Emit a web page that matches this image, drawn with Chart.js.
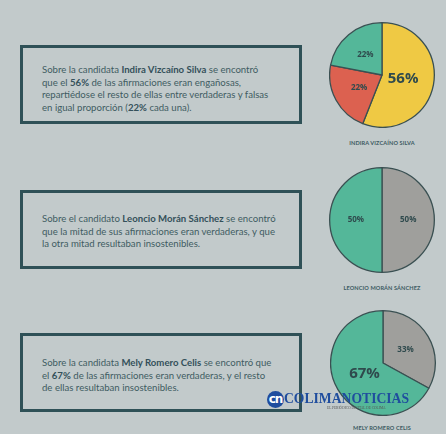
<!DOCTYPE html>
<html>
<head>
<meta charset="utf-8">
<script src="https://cdn.jsdelivr.net/npm/chart.js@4.4.1/dist/chart.umd.min.js"></script>
<style>
  html, body { margin: 0; padding: 0; }
  body { width: 446px; height: 434px; background: #c2cacb; position: relative; overflow: hidden;
         font-family: "Lato", "Noto Sans", sans-serif; }
  .box { position: absolute; left: 20px; width: 276px; height: 73px; border: 3px solid #2f5157; }
  .box p { margin: 0; position: absolute; left: 19px; color: #3f5c62; font-size: 9.6px; line-height: 12.6px; }
  .box b { color: #34505a; }
  .pie { position: absolute; width: 106px; height: 106px; }
  .name { position: absolute; width: 120px; text-align: center; font-size: 5.6px; font-weight: bold;
          color: #3c5a62; letter-spacing: 0.1px; }
  .logo { position: absolute; left: 267px; top: 389px; height: 20px; }
  .logo .circ { position: absolute; left: 0; top: 2px; width: 17px; height: 17px; border-radius: 50%;
                background: #1f4d9e; color: #fff; font: bold 12px "DejaVu Sans", sans-serif; text-align: center;
                line-height: 16px; letter-spacing: -1px; }
  .logo .txt { position: absolute; left: 17px; top: 0; font: bold 15.5px "Liberation Serif", serif; color: #1f4d9e;
               white-space: nowrap; transform: scaleX(0.88); transform-origin: left top; }
  .logo .sub { position: absolute; left: 60px; top: 17px; font: 3.5px "Liberation Serif", serif; color: #555;
               white-space: nowrap; }
</style>
</head>
<body>
<div class="box" style="top:45px"><p style="top:16px">Sobre la candidata <b>Indira Vizcaíno Silva</b> se encontró<br>que el <b>56%</b> de las afirmaciones eran engañosas,<br>repartiédose el resto de ellas entre verdaderas y falsas<br>en igual proporción (<b>22%</b> cada una).</p></div>
<div class="box" style="top:190px"><p style="top:20px">Sobre el candidato <b>Leoncio Morán Sánchez</b> se encontró<br>que la mitad de sus afirmaciones eran verdaderas, y que<br>la otra mitad resultaban insostenibles.</p></div>
<div class="box" style="top:333px"><p style="top:21px">Sobre la candidata <b>Mely Romero Celis</b> se encontró que<br>el <b>67%</b> de las afirmaciones eran verdaderas, y el resto<br>de ellas resultaban insostenibles.</p></div>

<canvas id="pie1" class="pie" style="left:329px;top:22px"></canvas>
<canvas id="pie2" class="pie" style="left:329px;top:167px"></canvas>
<canvas id="pie3" class="pie" style="left:330px;top:310px"></canvas>

<div class="name" id="n1" style="left:322px;top:139px"></div>
<div class="name" id="n2" style="left:322px;top:284px"></div>
<div class="name" id="n3" style="left:322px;top:424px"></div>

<div class="logo">
  <div class="circ">cn</div>
  <div class="txt">COLIMANOTICIAS</div>
  <div class="sub">EL PERIÓDICO DIGITAL DE COLIMA</div>
</div>

<script>
const candidates = ["INDIRA VIZCAÍNO SILVA", "LEONCIO MORÁN SÁNCHEZ", "MELY ROMERO CELIS"];

const indiraLabels = ["Engañosas", "Falsas", "Verdaderas"];
const indiraValues = [56, 22, 22];
const indiraColors = ["#efc944", "#dc6150", "#54b799"];

const leoncioLabels = ["Insostenibles", "Verdaderas"];
const leoncioValues = [50, 50];
const leoncioColors = ["#9f9f9c", "#54b799"];

const melyLabels = ["Insostenibles", "Verdaderas"];
const melyValues = [33, 67];
const melyColors = ["#9f9f9c", "#54b799"];

// big number when the slice is more than half
const sliceLabels = {
  id: "sliceLabels",
  afterDatasetsDraw(chart) {
    const ctx = chart.ctx;
    const meta = chart.getDatasetMeta(0);
    const vals = chart.data.datasets[0].data;
    meta.data.forEach((arc, i) => {
      const big = vals[i] > 50;
      const mid = (arc.startAngle + arc.endAngle) / 2;
      const d = arc.outerRadius * (big ? 0.41 : 0.5);
      const x = arc.x + Math.cos(mid) * d;
      const y = arc.y + Math.sin(mid) * d;
      ctx.save();
      ctx.fillStyle = "#2f4a4d";
      ctx.font = big ? "bold 15px 'Open Sans', sans-serif" : "bold 8px 'Open Sans', sans-serif";
      ctx.textAlign = "center";
      ctx.textBaseline = "middle";
      ctx.fillText(vals[i] + "%", x, y);
      ctx.restore();
    });
  }
};

function makePie(id, labels, values, colors) {
  new Chart(document.getElementById(id), {
    type: "pie",
    data: {
      labels,
      datasets: [{ data: values, backgroundColor: colors, borderColor: "#3a5052", borderWidth: 1.3 }]
    },
    options: {
      responsive: false,
      animation: false,
      layout: { padding: 0 },
      plugins: { legend: { display: false }, tooltip: { enabled: false } }
    },
    plugins: [sliceLabels]
  });
}

["n1", "n2", "n3"].forEach((id, i) => { document.getElementById(id).textContent = candidates[i]; });

makePie("pie1", indiraLabels, indiraValues, indiraColors);
makePie("pie2", leoncioLabels, leoncioValues, leoncioColors);
makePie("pie3", melyLabels, melyValues, melyColors);
</script>
</body>
</html>
